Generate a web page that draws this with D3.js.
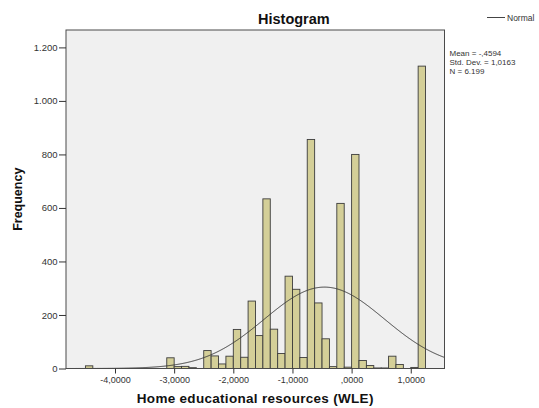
<!DOCTYPE html>
<html>
<head>
<meta charset="utf-8">
<script src="https://cdn.jsdelivr.net/npm/d3@7"></script>
<style>
  html, body { margin: 0; padding: 0; background: #ffffff; }
  svg { display: block; font-family: "Liberation Sans", Arial, sans-serif; }
</style>
</head>
<body>
<svg id="chart" width="539" height="408"></svg>
<script>
// Histogram bins: lower edge of each 0.125-wide bin and its frequency
const binStarts = [-4.5, -3.125, -3.0, -2.875, -2.75, -2.5, -2.375, -2.25, -2.125,
  -2.0, -1.875, -1.75, -1.625, -1.5, -1.375, -1.25, -1.125, -1.0, -0.875,
  -0.75, -0.625, -0.5, -0.375, -0.25, -0.125, 0.0, 0.125, 0.25, 0.375, 0.5,
  0.625, 0.75, 1.0, 1.125];
const binCounts = [10, 40, 7, 8, 3, 67, 47, 17, 46,
  146, 42, 252, 123, 634, 147, 56, 345, 296, 41,
  856, 245, 111, 7, 617, 5, 800, 30, 11, 2, 2,
  46, 15, 4, 1130];
const binWidth = 0.125;

// Summary statistics shown beside the plot and used for the normal curve
const statMean = -0.4594;
const statSD = 1.0163;
const statN = 6199;
const statLines = ["Mean = -,4594", "Std. Dev. = 1,0163", "N = 6.199"];

// Axis ticks and their labels
const xTickValues = [-4, -3, -2, -1, 0, 1];
const xTickLabels = ["-4,0000", "-3,0000", "-2,0000", "-1,0000", ",0000", "1,0000"];
const yTickValues = [0, 200, 400, 600, 800, 1000, 1200];
const yTickLabels = ["0", "200", "400", "600", "800", "1.000", "1.200"];

const bins = binStarts.map((s, i) => ({ x0: s, x1: s + binWidth, n: binCounts[i] }));

const svg = d3.select("#chart");
const plot = { left: 66, right: 444.5, top: 30, bottom: 368.5 };

const x = d3.scaleLinear()
  .domain([-4.8285, 1.5705])
  .range([plot.left, plot.right]);
const y = d3.scaleLinear()
  .domain([0, 1265])
  .range([plot.bottom, plot.top]);

// Plot frame background
svg.append("rect")
  .attr("x", plot.left).attr("y", plot.top)
  .attr("width", plot.right - plot.left).attr("height", plot.bottom - plot.top)
  .attr("fill", "#f0f0f0");

svg.append("defs").append("clipPath").attr("id", "plotClip")
  .append("rect")
  .attr("x", plot.left).attr("y", plot.top)
  .attr("width", plot.right - plot.left).attr("height", plot.bottom - plot.top);

// Bars
svg.append("g").selectAll("rect")
  .data(bins)
  .join("rect")
  .attr("x", d => x(d.x0))
  .attr("y", d => y(d.n))
  .attr("width", d => x(d.x1) - x(d.x0))
  .attr("height", d => y(0) - y(d.n))
  .attr("fill", "#d4cf98")
  .attr("stroke", "#3c3c3c")
  .attr("stroke-width", 0.9);

// Normal curve scaled to counts per bin
const curvePts = d3.range(-4.83, 1.58, 0.01).map(v => {
  const z = (v - statMean) / statSD;
  const dens = Math.exp(-0.5 * z * z) / (statSD * Math.sqrt(2 * Math.PI));
  return [v, statN * binWidth * dens];
});
svg.append("path")
  .datum(curvePts)
  .attr("clip-path", "url(#plotClip)")
  .attr("fill", "none")
  .attr("stroke", "#3a3a3a")
  .attr("stroke-width", 1)
  .attr("d", d3.line().x(d => x(d[0])).y(d => y(d[1])).curve(d3.curveBasis));

// Plot frame border
svg.append("rect")
  .attr("x", plot.left).attr("y", plot.top)
  .attr("width", plot.right - plot.left).attr("height", plot.bottom - plot.top)
  .attr("fill", "none")
  .attr("stroke", "#4a4a4a")
  .attr("stroke-width", 1);

// Y axis
const yAxis = d3.axisLeft(y)
  .tickValues(yTickValues)
  .tickFormat((d, i) => yTickLabels[i])
  .tickSize(7)
  .tickPadding(1.5);
const gy = svg.append("g")
  .attr("transform", `translate(${plot.left},0)`)
  .call(yAxis);
gy.select(".domain").remove();
gy.selectAll(".tick line").attr("stroke", "#333");
gy.selectAll(".tick text")
  .attr("fill", "#333")
  .style("font-size", "9.5px")
  .style("font-family", "'Liberation Sans', Arial, sans-serif");

// X axis
const xAxis = d3.axisBottom(x)
  .tickValues(xTickValues)
  .tickFormat((d, i) => xTickLabels[i])
  .tickSize(5)
  .tickPadding(3);
const gx = svg.append("g")
  .attr("transform", `translate(0,${plot.bottom})`)
  .call(xAxis);
gx.select(".domain").remove();
gx.selectAll(".tick line").attr("stroke", "#333");
gx.selectAll(".tick text")
  .attr("fill", "#333")
  .style("font-size", "9px")
  .style("font-family", "'Liberation Sans', Arial, sans-serif");

// Titles
svg.append("text")
  .attr("x", 258).attr("y", 24)
  .attr("font-size", "14.5px").attr("font-weight", "bold")
  .attr("fill", "#111")
  .text("Histogram");

svg.append("text")
  .attr("x", (plot.left + plot.right) / 2).attr("y", 403)
  .attr("text-anchor", "middle")
  .attr("font-size", "13.5px").attr("font-weight", "bold")
  .attr("letter-spacing", "0.3px")
  .attr("fill", "#111")
  .text("Home educational resources (WLE)");

svg.append("text")
  .attr("transform", `translate(22,${(plot.top + plot.bottom) / 2}) rotate(-90)`)
  .attr("text-anchor", "middle")
  .attr("font-size", "12.5px").attr("font-weight", "bold")
  .attr("fill", "#111")
  .text("Frequency");

// Legend for the normal curve
svg.append("line")
  .attr("x1", 487).attr("x2", 505)
  .attr("y1", 17.5).attr("y2", 17.5)
  .attr("stroke", "#444").attr("stroke-width", 1);
svg.append("text")
  .attr("x", 507).attr("y", 20.5)
  .attr("font-size", "8.5px")
  .attr("fill", "#333")
  .text("Normal");

// Summary statistics
svg.append("g").selectAll("text")
  .data(statLines)
  .join("text")
  .attr("x", 449.5)
  .attr("y", (d, i) => 55.5 + i * 9.2)
  .attr("font-size", "8px")
  .attr("fill", "#333")
  .text(d => d);
</script>
</body>
</html>
